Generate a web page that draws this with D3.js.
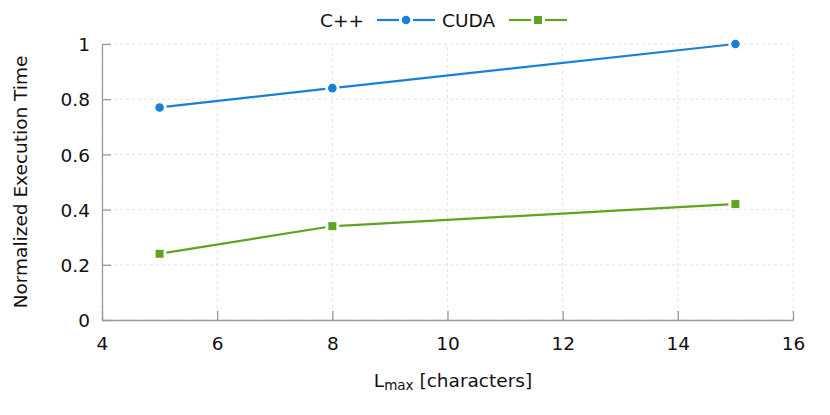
<!DOCTYPE html>
<html lang="en">
<head>
<meta charset="UTF-8">
<title>Normalized Execution Time</title>
<script src="https://d3js.org/d3.v7.min.js"></script>
<style>
  body { margin: 0; background: #fff; }
  text { font-family: "DejaVu Sans", sans-serif; fill: #111; }
</style>
</head>
<body>
<div class="canvas"></div>
<script>
  // data
  const lmax = [5, 8, 15]
  const cpp = [0.77, 0.84, 1.0]
  const cuda = [0.24, 0.34, 0.42]
  const xTicks = [4, 6, 8, 10, 12, 14, 16]
  const yTicks = [0, 0.2, 0.4, 0.6, 0.8, 1]
  const seriesNames = ['C++', 'CUDA']
  const colors = ['#1a7fd7', '#5fa31f']

  const W = 830, H = 415
  const m = { left: 102, right: 37, top: 44, bottom: 95 }
  const fs = 18.5

  const svg = d3.select('.canvas')
    .append('svg')
    .attr('width', W)
    .attr('height', H)

  const x = d3.scaleLinear().domain([4, 16]).range([m.left, W - m.right])
  const y = d3.scaleLinear().domain([0, 1]).range([H - m.bottom, m.top])

  // grid
  const grid = svg.append('g')
    .attr('stroke', '#e4e4e4')
    .attr('stroke-dasharray', '3,3')
    .attr('stroke-width', 1)
  grid.selectAll('.gx').data(xTicks).enter().append('line')
    .attr('x1', d => x(d)).attr('x2', d => x(d))
    .attr('y1', y(0)).attr('y2', y(1))
  grid.selectAll('.gy').data(yTicks).enter().append('line')
    .attr('x1', x(4)).attr('x2', x(16))
    .attr('y1', d => y(d)).attr('y2', d => y(d))

  // axes (ticks pointing inward)
  const xAxis = svg.append('g')
    .attr('transform', `translate(0,${y(0)})`)
    .call(d3.axisBottom(x).tickValues(xTicks).tickSizeInner(-9).tickSizeOuter(0).tickPadding(17).tickFormat(d3.format('d')))
  const yAxis = svg.append('g')
    .attr('transform', `translate(${x(4)},0)`)
    .call(d3.axisLeft(y).tickValues(yTicks).tickSizeInner(-9).tickSizeOuter(0).tickPadding(12).tickFormat(d => d === 0 || d === 1 ? d : d3.format('.1f')(d)))
  ;[xAxis, yAxis].forEach(a => {
    a.select('.domain').attr('stroke', '#9a9a9a').attr('stroke-width', 1.3)
    a.selectAll('.tick line').attr('stroke', '#9a9a9a').attr('stroke-width', 1.3)
    a.selectAll('.tick text').attr('font-size', fs).attr('font-family', 'DejaVu Sans').attr('fill', '#111')
  })
  yAxis.selectAll('.tick text').attr('dy', '0.36em')

  // lines with gaps around the markers
  const gap = 7
  function drawSeries(vals, color, shape) {
    const pts = lmax.map((v, i) => [x(v), y(vals[i])])
    const g = svg.append('g')
    for (let i = 0; i < pts.length - 1; i++) {
      const [x0, y0] = pts[i], [x1, y1] = pts[i + 1]
      const len = Math.hypot(x1 - x0, y1 - y0)
      const ux = (x1 - x0) / len, uy = (y1 - y0) / len
      g.append('line')
        .attr('x1', x0 + ux * gap).attr('y1', y0 + uy * gap)
        .attr('x2', x1 - ux * gap).attr('y2', y1 - uy * gap)
        .attr('stroke', color).attr('stroke-width', 2.2)
    }
    g.selectAll('.pt').data(pts).enter().append('path')
      .attr('transform', d => `translate(${d[0]},${d[1]})`)
      .attr('d', shape)
      .attr('fill', color)
  }
  const circle = d3.symbol().type(d3.symbolCircle).size(Math.PI * 4.3 * 4.3)()
  const square = d3.symbol().type(d3.symbolSquare).size(64)()
  drawSeries(cpp, colors[0], circle)
  drawSeries(cuda, colors[1], square)

  // legend
  const leg = svg.append('g')
  const legItems = [
    { name: seriesNames[0], tx: 320, lx: 377, shape: circle },
    { name: seriesNames[1], tx: 442, lx: 509, shape: square }
  ]
  legItems.forEach((it, i) => {
    leg.append('text').attr('x', it.tx).attr('y', 27).attr('font-size', fs).text(it.name)
    leg.append('line').attr('x1', it.lx).attr('x2', it.lx + 22).attr('y1', 20).attr('y2', 20)
      .attr('stroke', colors[i]).attr('stroke-width', 2.2)
    leg.append('line').attr('x1', it.lx + 36).attr('x2', it.lx + 58).attr('y1', 20).attr('y2', 20)
      .attr('stroke', colors[i]).attr('stroke-width', 2.2)
    leg.append('path').attr('transform', `translate(${it.lx + 29},20)`).attr('d', it.shape).attr('fill', colors[i])
  })

  // axis titles
  svg.append('text')
    .attr('transform', `translate(27,${(y(0) + y(1)) / 2}) rotate(-90)`)
    .attr('text-anchor', 'middle')
    .attr('font-size', fs)
    .text('Normalized Execution Time')

  const xt = svg.append('text')
    .attr('x', 453)
    .attr('y', 387)
    .attr('text-anchor', 'middle')
    .attr('font-size', fs)
  xt.append('tspan').text('L')
  xt.append('tspan').attr('font-size', 13.5).attr('dy', 3).text('max')
  xt.append('tspan').attr('dy', -3).text(' [characters]')
</script>
</body>
</html>
